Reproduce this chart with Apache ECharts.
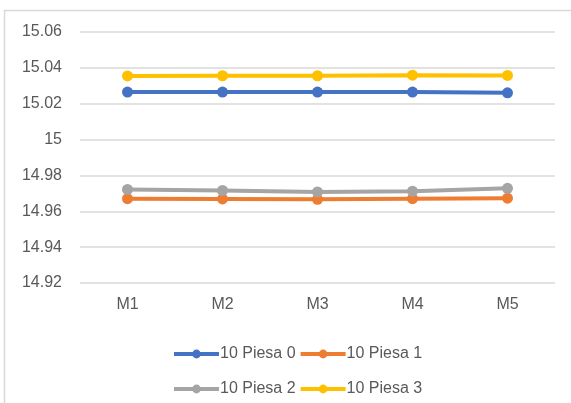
<!DOCTYPE html>
<html>
<head>
<meta charset="utf-8">
<script src="https://cdn.jsdelivr.net/npm/echarts@6/dist/echarts.min.js"></script>
<style>
  html, body { margin: 0; padding: 0; background: #fff; }
  #chart { width: 571px; height: 403px; }
</style>
</head>
<body>
<div id="chart"></div>
<script>
// Measurement points along the x axis
const categories = ['M1', 'M2', 'M3', 'M4', 'M5'];

// Measured values per piece
const piesa0 = [15.0265, 15.0265, 15.0265, 15.0265, 15.0261];
const piesa1 = [14.9670, 14.9669, 14.9667, 14.9670, 14.9673];
const piesa2 = [14.9722, 14.9716, 14.9708, 14.9712, 14.9728];
const piesa3 = [15.0355, 15.0356, 15.0356, 15.0359, 15.0358];

const seriesNames = ['10 Piesa 0', '10 Piesa 1', '10 Piesa 2', '10 Piesa 3'];
const seriesColors = ['#4472C4', '#ED7D31', '#A5A5A5', '#FFC000'];
const seriesData = [piesa0, piesa1, piesa2, piesa3];

const FONT = '"Liberation Sans", Arial, sans-serif';
const TEXT = '#595959';

const chart = echarts.init(document.getElementById('chart'), null, { renderer: 'canvas' });

const legendBase = {
  left: 167,
  itemWidth: 45,
  itemHeight: 11,
  itemGap: 3,
  lineStyle: { width: 4 },
  textStyle: { color: TEXT, fontSize: 16, fontFamily: FONT, padding: [0, 0, 0, -4] },
  selectedMode: false
};

chart.setOption({
  animation: false,
  backgroundColor: '#fff',
  graphic: [{
    type: 'polyline',
    shape: { points: [[4.5, 410], [4.5, 10.5], [580, 10.5]] },
    style: { stroke: '#d9d9d9', lineWidth: 1.5, fill: null },
    silent: true
  }],
  grid: { left: 80, right: 16, top: 32, bottom: 120 },
  legend: [
    Object.assign({}, legendBase, { top: 341, data: seriesNames.slice(0, 2) }),
    Object.assign({}, legendBase, { top: 376, data: seriesNames.slice(2, 4) })
  ],
  xAxis: {
    type: 'category',
    data: categories,
    boundaryGap: true,
    axisLine: { show: false },
    axisTick: { show: false },
    axisLabel: { color: TEXT, fontSize: 16, fontFamily: FONT, margin: 14 }
  },
  yAxis: {
    type: 'value',
    min: 14.92,
    max: 15.06,
    interval: 0.02,
    axisLine: { show: false },
    axisTick: { show: false },
    splitLine: { lineStyle: { color: '#d9d9d9', width: 1.5 } },
    axisLabel: {
      color: TEXT, fontSize: 16, fontFamily: FONT, margin: 18,
      formatter: v => String(Number(v.toFixed(2)))
    }
  },
  series: seriesNames.map((name, i) => ({
    name: name,
    type: 'line',
    data: seriesData[i],
    symbol: 'circle',
    symbolSize: 11,
    itemStyle: { color: seriesColors[i] },
    lineStyle: { color: seriesColors[i], width: 4 }
  }))
});
</script>
</body>
</html>
